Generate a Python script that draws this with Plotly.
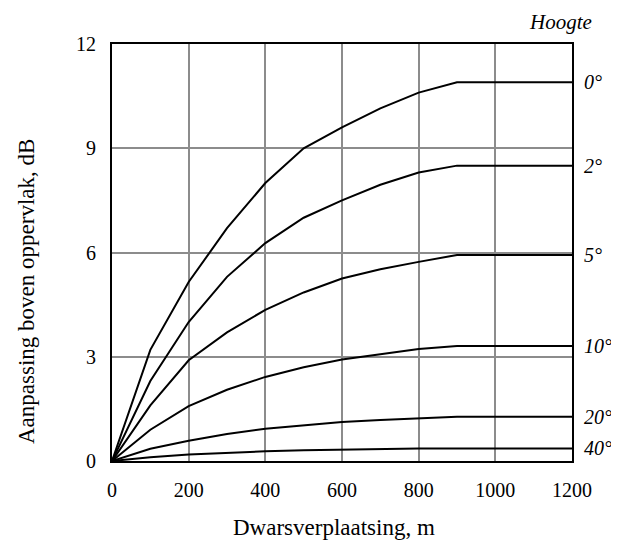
import plotly.graph_objects as go

x_m = [0, 100, 200, 300, 400, 500, 600, 700, 800, 900, 1000, 1100, 1200]
h0 = [0, 3.2, 5.15, 6.7, 8.0, 9.0, 9.6, 10.15, 10.6, 10.9, 10.9, 10.9, 10.9]
h2 = [0, 2.3, 4.0, 5.3, 6.27, 7.0, 7.5, 7.95, 8.3, 8.5, 8.5, 8.5, 8.5]
h5 = [0, 1.6, 2.9, 3.7, 4.35, 4.85, 5.25, 5.52, 5.73, 5.93, 5.93, 5.93, 5.93]
h10 = [0, 0.9, 1.58, 2.05, 2.42, 2.7, 2.92, 3.08, 3.22, 3.31, 3.31, 3.31, 3.31]
h20 = [0, 0.35, 0.58, 0.78, 0.93, 1.03, 1.12, 1.18, 1.22, 1.27, 1.27, 1.27, 1.27]
h40 = [0, 0.11, 0.19, 0.24, 0.28, 0.31, 0.33, 0.35, 0.36, 0.36, 0.36, 0.36, 0.36]

series = [("0°", h0), ("2°", h2), ("5°", h5), ("10°", h10), ("20°", h20), ("40°", h40)]
x_ticks = [0, 200, 400, 600, 800, 1000, 1200]
y_ticks = [0, 3, 6, 9, 12]

FONT = "Liberation Serif, Times New Roman, serif"

# page body has an 8px margin: plot area spans x 112..572, y 44..461 on the page
W, H = 611, 532
L, T = 104, 36
R = W - (572 - 8)
B = H - (461 - 8)
PW = 572 - 112

fig = go.Figure()
for name, ys in series:
    fig.add_trace(go.Scatter(x=x_m, y=ys, mode="lines", name=name,
                             line=dict(color="black", width=2), showlegend=False))

for name, ys in series:
    fig.add_annotation(x=1.0, xref="paper", y=ys[-1], yref="y",
                       text="<i>" + name + "</i>",
                       showarrow=False, xanchor="left", xshift=10,
                       font=dict(family=FONT, size=20, color="black"))

fig.add_annotation(x=(560 - 112) / PW, xref="paper", y=1, yref="paper",
                   text="<i>Hoogte</i>", showarrow=False,
                   xanchor="center", yanchor="bottom", yshift=8,
                   font=dict(family=FONT, size=21, color="black"))

fig.add_annotation(x=(26 - 112) / PW, xref="paper", y=(461 - 292) / (461 - 44), yref="paper",
                   text="Aanpassing boven oppervlak, dB", showarrow=False,
                   textangle=-90, xanchor="center", yanchor="middle",
                   font=dict(family=FONT, size=23, color="black"))
fig.add_annotation(x=(334 - 112) / PW, xref="paper", y=0, yref="paper",
                   text="Dwarsverplaatsing, m", showarrow=False,
                   xanchor="center", yanchor="middle", yshift=-(527 - 461),
                   font=dict(family=FONT, size=23, color="black"))

axis_common = dict(showgrid=True, gridcolor="#8c8c8c", gridwidth=1.5,
                   showline=True, linecolor="black", linewidth=2, mirror=True,
                   ticks="outside", ticklen=10, tickcolor="rgba(0,0,0,0)",
                   zeroline=False, tickfont=dict(family=FONT, size=20, color="black"))
fig.update_xaxes(range=[0, 1200], tickvals=x_ticks, **axis_common)
fig.update_yaxes(range=[0, 12], tickvals=y_ticks, **axis_common)

fig.update_layout(width=W, height=H, margin=dict(l=L, r=R, t=T, b=B),
                  plot_bgcolor="white", paper_bgcolor="white")

fig.write_html("out.html")
